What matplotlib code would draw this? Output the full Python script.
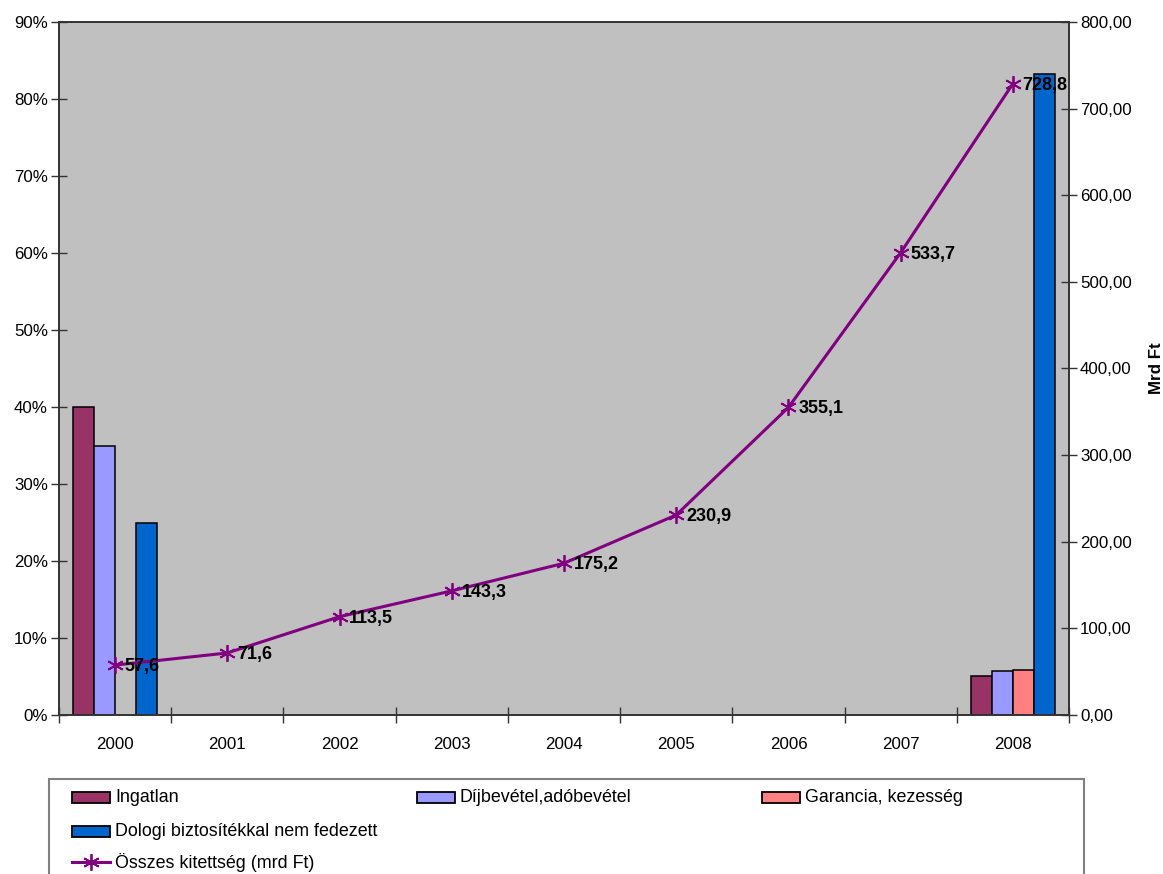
#!/usr/bin/env python3
"""Loan exposure by collateral type (bars, %) and total exposure (line, mrd Ft)."""

import matplotlib
matplotlib.use("Agg")
import matplotlib.pyplot as plt
from matplotlib.lines import Line2D
from matplotlib.patches import Rectangle
from matplotlib.ticker import FuncFormatter, FixedLocator

plt.rcParams["font.family"] = ["Liberation Sans", "DejaVu Sans"]

# ---------------------------------------------------------------------------
# Data
# ---------------------------------------------------------------------------
years = ["2000", "2001", "2002", "2003", "2004", "2005", "2006", "2007", "2008"]

series_names = ["Ingatlan", "Díjbevétel,adóbevétel", "Garancia, kezesség",
                "Dologi biztosítékkal nem fedezett"]
ingatlan = [40.0, None, None, None, None, None, None, None, 5.1]
dijbevetel = [35.0, None, None, None, None, None, None, None, 5.7]
garancia = [0.0, None, None, None, None, None, None, None, 5.9]
dologi = [25.0, None, None, None, None, None, None, None, 83.2]

line_name = "Összes kitettség (mrd Ft)"
total_exposure = [57.6, 71.6, 113.5, 143.3, 175.2, 230.9, 355.1, 533.7, 728.8]

bar_colors = ["#993366", "#9999FF", "#FF8080", "#0066CC"]
line_color = "#800080"

TICK_FS = 12.2
LEG_FS = 12.9

# ---------------------------------------------------------------------------
# Figure
# ---------------------------------------------------------------------------
W, H = 1163, 874
fig = plt.figure(figsize=(W / 100, H / 100), dpi=100)
ax = fig.add_axes([59 / W, 1 - 715 / H, (1069 - 59) / W, (715 - 22) / H])
ax.set_facecolor("#C0C0C0")

bar_w = 0.1875
offsets = [-1.5 * bar_w, -0.5 * bar_w, 0.5 * bar_w, 1.5 * bar_w]
all_series = [ingatlan, dijbevetel, garancia, dologi]
for vals, off, col in zip(all_series, offsets, bar_colors):
    xs = [i + off for i, v in enumerate(vals) if v]
    hs = [v for v in vals if v]
    ax.bar(xs, hs, width=bar_w, color=col, edgecolor="black",
           linewidth=1.1, zorder=2)

ax.set_xlim(-0.5, len(years) - 0.5)
ax.set_ylim(0, 90)
ax.yaxis.set_major_locator(FixedLocator(range(0, 91, 10)))
ax.yaxis.set_major_formatter(FuncFormatter(lambda v, p: f"{v:.0f}%"))

ax.set_xticks(range(len(years)))
ax.set_xticklabels(years)
ax.set_xticks([i - 0.5 for i in range(len(years) + 1)], minor=True)
ax.tick_params(axis="x", which="major", length=0, pad=16, labelsize=TICK_FS)
ax.tick_params(axis="x", which="minor", direction="inout", length=12,
               width=1, color="#333333")
ax.tick_params(axis="y", direction="inout", length=12, width=1,
               color="#333333", labelsize=TICK_FS, pad=2)

for s in ax.spines.values():
    s.set_color("#333333")
    s.set_linewidth(1.2)

# secondary axis: total exposure
ax2 = ax.twinx()
ax2.set_ylim(0, 800)
ax2.yaxis.set_major_locator(FixedLocator(range(0, 801, 100)))
ax2.yaxis.set_major_formatter(
    FuncFormatter(lambda v, p: f"{v:.2f}".replace(".", ",")))
ax2.tick_params(axis="y", direction="inout", length=12, width=1,
                color="#333333", labelsize=TICK_FS, pad=2)
for s in ax2.spines.values():
    s.set_color("#333333")
    s.set_linewidth(1.2)
ax2.set_ylabel("Mrd Ft", fontsize=TICK_FS, fontweight="bold", labelpad=12)

xs_line = list(range(len(years)))
ax2.plot(xs_line, total_exposure, color=line_color, linewidth=2.2,
         marker=(6, 2, 0), markersize=12, markeredgewidth=1.3,
         markeredgecolor=line_color, zorder=3)
for x, v in zip(xs_line, total_exposure):
    ax2.annotate(f"{v:.1f}".replace(".", ","), (x, v), xytext=(7, -1),
                 textcoords="offset points", ha="left", va="center",
                 fontsize=13, fontweight="bold", zorder=4)

# ---------------------------------------------------------------------------
# Legend (Excel style, row-major, bottom of the figure)
# ---------------------------------------------------------------------------
fig.patches.append(Rectangle((49 / W, -0.05), (1084 - 49) / W, 0.05 + 1 - 779 / H,
                             transform=fig.transFigure, facecolor="white",
                             edgecolor="#808080", linewidth=1.5, zorder=0))

legend_entries = [
    (0, series_names[0], 72, 797),
    (1, series_names[1], 417, 797),
    (2, series_names[2], 762, 797),
    (3, series_names[3], 72, 831),
]
for idx, label, px, py in legend_entries:
    fig.patches.append(Rectangle((px / W, 1 - (py + 5.5) / H), 38 / W, 11 / H,
                                 transform=fig.transFigure,
                                 facecolor=bar_colors[idx], edgecolor="black",
                                 linewidth=1.3))
    fig.text((px + 43) / W, 1 - py / H, label, fontsize=LEG_FS, va="center",
             ha="left")

ly = 862
fig.lines.append(Line2D([72 / W, 110 / W], [1 - ly / H, 1 - ly / H],
                        transform=fig.transFigure, color=line_color,
                        linewidth=2.2))
fig.lines.append(Line2D([91 / W], [1 - ly / H], transform=fig.transFigure,
                        color=line_color, marker=(6, 2, 0), markersize=12,
                        markeredgewidth=1.3, linestyle="none"))
fig.text(115 / W, 1 - ly / H, line_name, fontsize=LEG_FS, va="center",
         ha="left")

fig.savefig("out.png", dpi=100)
